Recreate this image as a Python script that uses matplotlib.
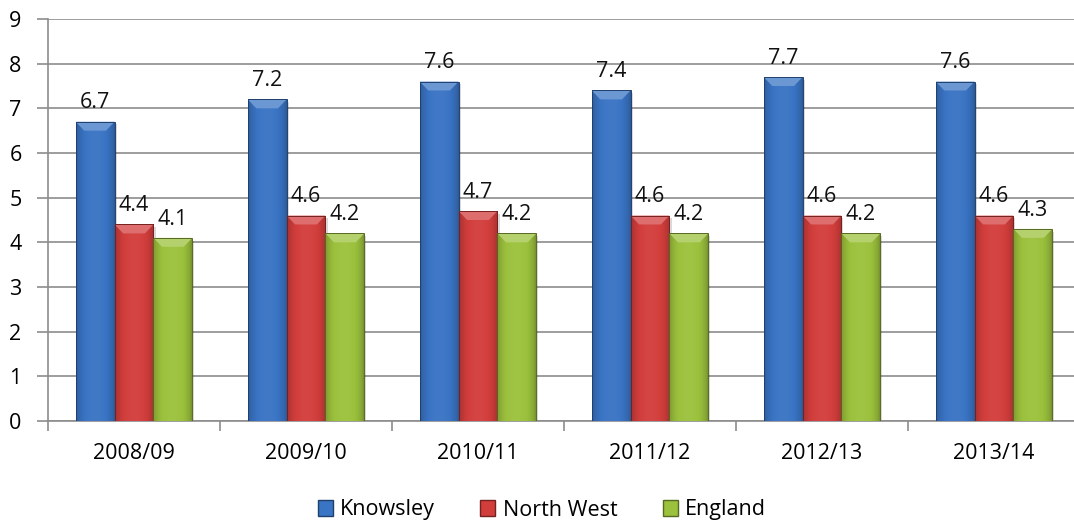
import numpy as np
import matplotlib.pyplot as plt
from matplotlib.patches import Rectangle, Polygon, Patch
from matplotlib.colors import to_rgb

years = ["2008/09", "2009/10", "2010/11", "2011/12", "2012/13", "2013/14"]
knowsley = [6.7, 7.2, 7.6, 7.4, 7.7, 7.6]
north_west = [4.4, 4.6, 4.7, 4.6, 4.6, 4.6]
england = [4.1, 4.2, 4.2, 4.2, 4.2, 4.3]

series = [("Knowsley", knowsley, "#3a74c4"),
          ("North West", north_west, "#d23e3c"),
          ("England", england, "#9cc13c")]

plt.rcParams['font.family'] = ['Open Sans', 'DejaVu Sans']
fs = 15.5

fig = plt.figure(figsize=(10.74, 5.24), dpi=100)
ax = fig.add_axes([48 / 1074, 103 / 524, 1032 / 1074, 402 / 524])

bw = 0.226
n = len(years)


def shade(c, f):
    c = np.array(to_rgb(c))
    if f < 1:
        return tuple(c * f)
    return tuple(c + (1 - c) * (f - 1))


def bevel_bar(x0, h, color):
    x1 = x0 + bw
    # soft shadow
    ax.add_patch(Rectangle((x0 + 0.012, -0.06), bw, h, color="#000000",
                           alpha=0.15, lw=0, zorder=2))
    body = Rectangle((x0, 0), bw, h, facecolor=color, lw=0, zorder=3)
    ax.add_patch(body)
    # horizontal gradient: dark edges, lighter middle
    t = np.linspace(0, 1, 64)
    prof = 0.76 + 0.3 * np.sin(np.pi * t) ** 0.6
    grad = np.array([[shade(color, p) if p <= 1 else shade(color, 1 + (p - 1) * 0.6) for p in prof]])
    im = ax.imshow(grad, extent=(x0, x1, 0, h), aspect="auto",
                   interpolation="bilinear", zorder=3)
    im.set_clip_path(body)
    # top bevel
    dx, dy = 0.05, 0.2
    top = Polygon([(x0, h), (x1, h), (x1 - dx, h - dy), (x0 + dx, h - dy)],
                  closed=True, facecolor=shade(color, 1.25), lw=0, zorder=4)
    ax.add_patch(top)
    ax.add_patch(Rectangle((x0, 0), bw, h, facecolor="none",
                           edgecolor=shade(color, 0.55), lw=0.7, zorder=5))


for i, (name, vals, col) in enumerate(series):
    for j, v in enumerate(vals):
        x0 = j + 0.5 - 1.5 * bw + i * bw
        bevel_bar(x0, v, col)
        ax.annotate(f"{v:.1f}", (x0 + bw / 2, v), xytext=(0, 6),
                    textcoords="offset points", ha="center", va="bottom",
                    fontsize=fs, color="#111111", zorder=6)

ax.set_xlim(0, n)
ax.set_ylim(0, 9)
ax.set_yticks(range(0, 10))
ax.yaxis.grid(True, color="#8c8c8c", lw=1.2)
ax.set_axisbelow(True)

ax.set_xticks(np.arange(0, n + 1))
ax.set_xticklabels([])
ax.set_xticks(np.arange(n) + 0.5, minor=True)
ax.set_xticklabels(years, minor=True)
ax.tick_params(axis="x", which="major", length=7, color="#8c8c8c", width=1.2)
ax.tick_params(axis="x", which="minor", length=0, pad=16, labelsize=fs)
ax.tick_params(axis="y", length=8, color="#8c8c8c", width=1.2, pad=11, labelsize=fs)

for s in ["top", "right"]:
    ax.spines[s].set_visible(False)
for s in ["left", "bottom"]:
    ax.spines[s].set_color("#8c8c8c")
    ax.spines[s].set_linewidth(1.2)

handles = [Patch(facecolor=c, edgecolor=shade(c, 0.55), label=nm) for nm, _, c in series]
fig.legend(handles=handles, loc="center", bbox_to_anchor=(542 / 1074, 14 / 524),
           ncol=3, frameon=False, fontsize=fs, handlelength=0.7, handleheight=0.7,
           handletextpad=0.35, columnspacing=2.1)

fig.savefig("out.png", dpi=100)
